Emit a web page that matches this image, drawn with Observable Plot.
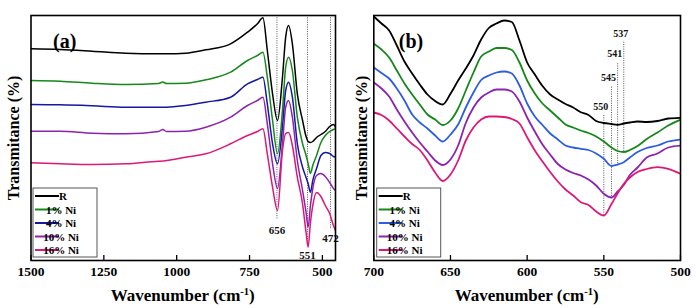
<!DOCTYPE html>
<html><head><meta charset="utf-8">
<script src="https://cdn.jsdelivr.net/npm/d3@7"></script>
<script src="https://cdn.jsdelivr.net/npm/@observablehq/plot@0.6"></script>
<style>
html,body{margin:0;padding:0;background:#fff;}
#wrap{display:flex;width:700px;height:308px;overflow:hidden;}
#wrap svg{display:block;overflow:visible;font-family:'Liberation Serif',serif !important;}
#wrap svg text, #wrap svg tspan{font-family:'Liberation Serif',serif !important;font-weight:bold;}
</style></head><body><div id="wrap"></div>
<script>
// ---- data ----
const seriesNames = ["R", "1% Ni", "4% Ni", "10% Ni", "16% Ni"];

// panel (a): full range
const wavenumberA = [1500, 1400, 1290, 1175, 1062, 1048, 1035, 970, 900, 815, 757, 723, 704, 689, 671, 654, 637, 626, 616, 603, 586, 568, 556, 549, 541, 533, 520, 505, 490, 475, 462, 455];
const tA_R   = [211.7, 211, 209.3, 207.3, 206.7, 206.7, 206.7, 207.3, 210.7, 216.7, 228.3, 236.7, 242.7, 210, 166.7, 140, 183.3, 223.3, 235, 216.7, 166.7, 140, 124, 119, 118, 119, 123, 126, 129, 134, 136, 133.3];
const tA_1   = [180, 179.3, 177.3, 176, 177, 178.5, 177, 177.3, 180.7, 188.3, 200, 205, 208.3, 183.3, 140, 106.7, 150, 193.3, 203.3, 190, 143.3, 116.7, 105, 97, 87, 95, 105, 118, 125, 129, 131, 131.7];
const tA_4   = [156, 155.7, 154.7, 153.3, 153.3, 153.3, 153.3, 155, 158.3, 163.3, 176.7, 181, 183.3, 156.7, 116.7, 96.7, 133.3, 170, 178.3, 163.3, 116.7, 93.3, 83, 77, 68.3, 80, 92, 105, 108, 107, 104, 103.3];
const tA_10  = [129.3, 129.3, 127.3, 126.7, 129, 131, 129, 129.3, 133.3, 143.3, 155, 160, 163.3, 136.7, 96.7, 72, 116.7, 153.3, 160, 143.3, 100, 70, 48, 33.3, 55, 72, 85, 87, 84, 78, 72, 70];
const tA_16  = [97.7, 96.7, 96, 96.7, 99.3, 99.5, 100, 103.3, 106.7, 116.7, 125, 129, 131.7, 106.7, 73.3, 50, 110, 127, 128, 115, 83.3, 56.7, 28, 13.3, 38, 55, 68, 64, 55, 47, 35, 30];

// panel (b): zoom 700-500
const wavenumberB = [700, 695, 690, 685, 680, 675, 670, 665, 660, 655, 650, 645, 640, 635, 630, 625, 620, 615, 610, 605, 600, 595, 590, 585, 580, 575, 570, 565, 560, 555, 550, 545, 541, 537, 533, 528, 522, 515, 508, 500];
const tB_R   = [244, 237, 230, 215, 199, 187, 176, 166, 159.5, 156, 166.7, 180, 192, 205, 221, 232.5, 237, 240, 238.5, 220, 198, 186, 174.5, 166, 161, 156.5, 153, 148.3, 145.5, 139.5, 137.5, 136.5, 135.7, 137, 138, 139, 138.5, 139.5, 142, 142.7];
const tB_1   = [216.7, 211, 203, 190, 177, 166, 156, 146, 141, 135.5, 140, 152, 170, 188, 204, 209, 212.5, 212.5, 210.5, 198, 180, 167, 157, 150, 143, 136, 133, 130, 127.5, 124, 119, 113, 109.5, 108.5, 110.5, 114.5, 121.5, 128, 135, 140.7];
const tB_4   = [193, 187.5, 182, 172, 160, 146, 138, 132, 125, 119, 126, 136, 153, 168, 180.5, 185, 188, 189, 187, 175, 157, 144, 135.5, 127, 121, 115, 113, 111.7, 110.5, 107, 101.7, 94.5, 96, 98.3, 103, 108.5, 112.5, 115, 119, 121];
const tB_10  = [178, 172, 164, 151, 139, 128, 118, 109, 100, 95.5, 101, 115, 137.5, 153, 163, 168, 171, 171, 169, 159, 143, 129, 116, 106, 96.5, 91, 87.5, 85, 81, 75, 66.7, 63, 69, 75.5, 85.5, 93, 103, 107, 113, 115];
const tB_16  = [148, 145.5, 140, 132, 124, 116.5, 110.5, 100, 88, 79.5, 86, 100, 120, 133, 141, 144, 144, 143.5, 141.5, 137, 123.3, 110, 99, 88.5, 79, 71, 65, 58.3, 55.5, 49, 45, 56.5, 67, 76.5, 83, 88.5, 91.5, 93.3, 91.7, 86.7];

const ticksA = [1500, 1250, 1000, 750, 500];
const ticksB = [700, 650, 600, 550, 500];

// peak annotations
const peaksA = [656, 551, 472];
const peakLabelYA = [30, 5, 22];
const peakLineEndA = [41, 13, 31];
const peaksB = [550, 545, 541, 537];
const peakLabelYB = [154, 183, 207, 226.7];
const peakLineTopB = [145, 173.3, 196.7, 218.3];
const peakLineEndB = [45, 62, 94.5, 108.3];

const yTitle = "Transmitance (%)";
const xTitle = "Wavenumber (cm";

// ---- build ----
function rows(wn, arrays) {
  const out = [];
  arrays.forEach((arr, i) => arr.forEach((t, j) => out.push({series: seriesNames[i], w: wn[j], t})));
  return out;
}
const FONT = "'Liberation Serif', serif";

function panel(o) {
  const data = rows(o.wn, o.values);
  const peakData = o.peaks.map((p, i) => ({p, label: String(p), ly: o.labelY[i], y1: o.lineTop[i], y2: o.lineEnd[i]}));
  const svg = Plot.plot({
    width: 350, height: 308,
    marginLeft: o.ml, marginRight: o.mr, marginTop: 15, marginBottom: 48,
    x: {domain: o.domain, label: null},
    y: {domain: [0, 245], axis: null},
    color: {domain: seriesNames, range: o.colors},
    style: {fontFamily: FONT, fontWeight: "bold", fontSize: "13.5px", background: "white", color: "#000"},
    marks: [
      Plot.ruleX(peakData, {x: "p", y1: "y1", y2: "y2", stroke: "#555", strokeWidth: 1, strokeDasharray: "1,1.3"}),
      Plot.line(data, {x: "w", y: "t", z: "series", stroke: "series", strokeWidth: o.sw, curve: "monotone-x", clip: true}),
      Plot.text(peakData, {x: "p", y: "ly", text: "label", dx: o.labelDx, fontSize: o.labelSize, fill: "#111"}),
      Plot.tickX(o.ticks, {x: d => d, insetTop: 240, stroke: "#000", strokeWidth: 1.3}),
      Plot.axisX({ticks: o.ticks, tickSize: 0, tickPadding: 6, tickFormat: d => String(d), fontSize: 13.5, fontWeight: "bold"}),
      Plot.frame({stroke: "#000", strokeWidth: 1.6}),
      Plot.text([o.tag], {frameAnchor: "top-left", dx: o.tagDx, dy: 18, textAnchor: "start", fontSize: 20, fontWeight: "bold"}),
      Plot.text([yTitle], {frameAnchor: "left", dx: o.yDx, rotate: -90, textAnchor: "middle", lineAnchor: "middle", fontSize: 16, fontWeight: "bold"})
    ]
  });
  const s = d3.select(svg);
  const cx = (o.ml + 350 - o.mr) / 2;
  const tt = s.append("text").attr("x", cx).attr("y", 301).attr("text-anchor", "middle")
    .attr("font-family", FONT).attr("font-weight", "bold").attr("font-size", 17);
  tt.append("tspan").text(xTitle);
  tt.append("tspan").attr("dy", -6).attr("font-size", 10.5).text("-1");
  tt.append("tspan").attr("dy", 6).text(")");
  const g = s.append("g").attr("font-family", FONT).attr("font-weight", "bold").attr("font-size", 11);
  g.append("rect").attr("x", o.lx).attr("y", 188).attr("width", 64).attr("height", 69)
    .attr("fill", "white").attr("stroke", "#555").attr("stroke-width", 1);
  seriesNames.forEach((n, i) => {
    const y = 196 + i * 13.5;
    g.append("line").attr("x1", o.lx + 2).attr("x2", o.lx + 26).attr("y1", y).attr("y2", y)
      .attr("stroke", o.colors[i]).attr("stroke-width", 2);
    g.append("text").attr("x", o.lx + (i === 0 ? 30 : 28)).attr("y", y + 4).text(n);
  });
  return svg;
}

const wrap = document.getElementById("wrap");
wrap.append(panel({
  wn: wavenumberA, values: [tA_R, tA_1, tA_4, tA_10, tA_16], domain: [1500, 455], ticks: ticksA,
  colors: ["#000000", "#16881a", "#16189e", "#8e22b0", "#dc1878"], sw: 1.5,
  ml: 30.5, mr: 15, tag: "(a)", tagDx: 22, yDx: -17.5, lx: 33,
  peaks: peaksA, labelY: peakLabelYA, lineTop: peaksA.map(() => 245), lineEnd: peakLineEndA, labelDx: 0, labelSize: 11
}));
wrap.append(panel({
  wn: wavenumberB, values: [tB_R, tB_1, tB_4, tB_10, tB_16], domain: [700, 500], ticks: ticksB,
  colors: ["#000000", "#16881a", "#2d5de0", "#8e22b0", "#dc1878"], sw: 1.8,
  ml: 23.3, mr: 20, tag: "(b)", tagDx: 25, yDx: -11.5, lx: 26.7,
  peaks: peaksB, labelY: peakLabelYB, lineTop: peakLineTopB, lineEnd: peakLineEndB, labelDx: -3, labelSize: 10
}));
</script></body></html>
